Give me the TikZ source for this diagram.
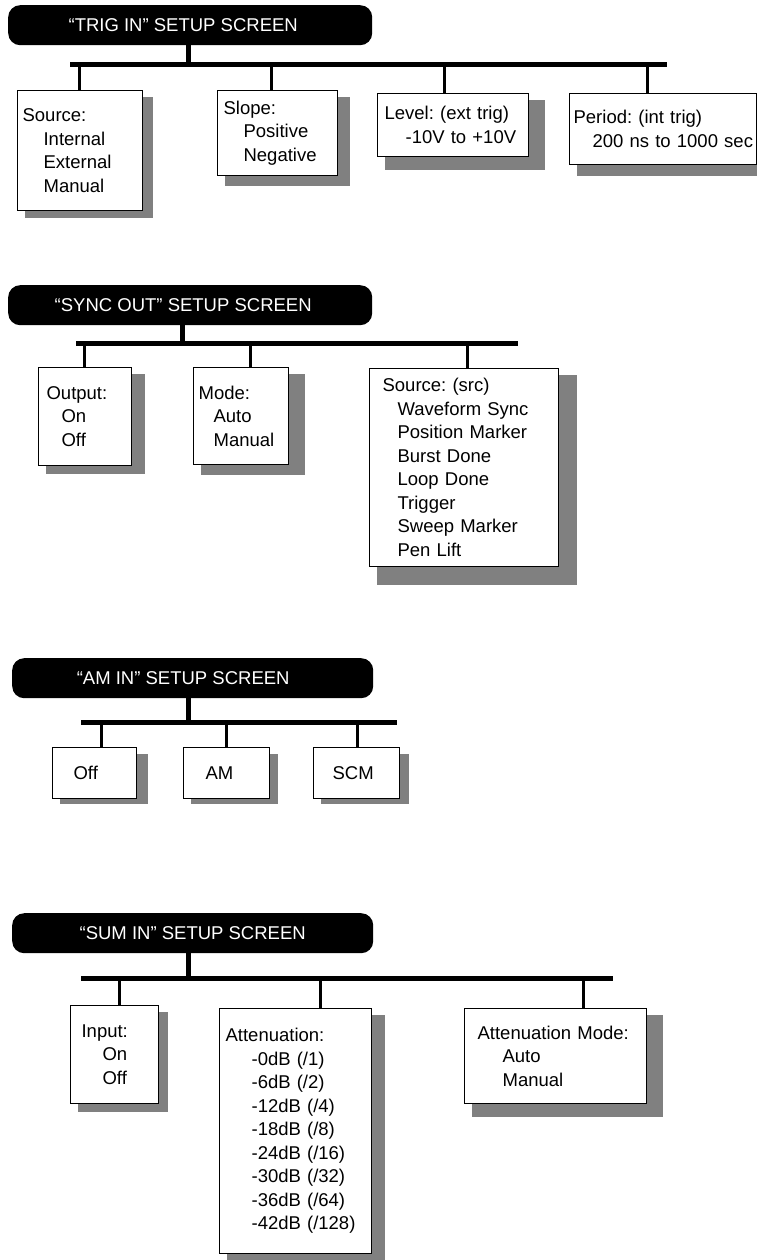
\documentclass[tikz,border=0pt]{standalone}
\usepackage{fontspec}
\setmainfont{Liberation Sans}
\definecolor{shadowgray}{HTML}{808080}
\tikzset{
  x=1pt, y=-1pt,
  titlebar/.style={fill=black, text=white, rounded corners=12pt, anchor=north west, inner sep=0pt, font=\fontsize{18.5}{22}\selectfont},
  optbox/.style={draw=black, line width=1.2pt, fill=white, anchor=north west, align=left, inner ysep=0pt, font=\fontsize{18.5}{23.5}\selectfont\frenchspacing},
  boxshade/.style={fill=shadowgray},
  busline/.style={line width=5pt},
  stemline/.style={line width=5pt},
  dropline/.style={line width=3pt},
}
\newcommand\optl[2][21]{\mbox{\hspace*{#1pt}#2}}
% style, name, x1, y1, x2, y2, shadow x2, shadow y2, pad ; then text as next arg
\newcommand\obox[9]{%
  \fill[boxshade] (#3+8,#4+7) rectangle (#7,#8);
  \pgfmathsetmacro\obw{#5-#3}\pgfmathsetmacro\obh{#6-#4}\pgfmathsetmacro\otw{#5-#3-2*#9}%
  \oboxnode{#1}{#2}{#3}{#4}{#9}%
}
\newcommand\oboxnode[6]{%
  \node[#1, minimum width=\obw pt, minimum height=\obh pt, text width=\otw pt, inner xsep=#5pt] (#2) at (#3,#4) {#6};
}
\newcommand\dropto[3]{\coordinate (#1) at (#2); \draw[dropline] (#1) -- (#1 |- #3.north);}
\begin{document}
\begin{tikzpicture}
\useasboundingbox (0,0) rectangle (757,1260);
\fill[white] (0,0) rectangle (757,1260);

% ---------- TRIG IN ----------
\node[titlebar, minimum width=364pt, minimum height=40pt] (t1) at (8,5) {\hspace*{-14pt}“TRIG IN” SETUP SCREEN};
\coordinate (bl1) at (70,65); \coordinate (br1) at (667,65);
\coordinate (s1) at (188,65);
\draw[stemline] (s1 |- t1.south) -- (s1);
\draw[busline] (bl1) -- (br1);
\obox{optbox}{b11}{17}{90}{142}{210}{153}{218}{5}{\mbox{Source:}\\\optl{Internal}\\\optl{External}\\\optl{Manual}}
\obox{optbox}{b12}{217}{90}{337}{175}{350}{186}{6}{\mbox{Slope:}\\\optl[20]{Positive}\\\optl[20]{Negative}}
\obox{optbox}{b13}{377}{93}{528}{156}{545}{170}{7}{\mbox{Level: (ext trig)}\\\optl{-10V to +10V}}
\obox{optbox}{b14}{569}{93}{756}{164}{770}{176}{4}{\mbox{Period: (int trig)}\\\optl[19]{200 ns to 1000 sec}}
\dropto{d11}{79,65}{b11}
\dropto{d12}{271,65}{b12}
\dropto{d13}{444,65}{b13}
\dropto{d14}{647,65}{b14}

% ---------- SYNC OUT ----------
\node[titlebar, minimum width=364pt, minimum height=40pt] (t2) at (8,285) {\hspace*{-14pt}“SYNC OUT” SETUP SCREEN};
\coordinate (bl2) at (76,343); \coordinate (br2) at (518,343);
\coordinate (s2) at (182,343);
\draw[stemline] (s2 |- t2.south) -- (s2);
\draw[busline] (bl2) -- (br2);
\obox{optbox}{b21}{38}{367}{131}{465}{145}{474}{8}{\mbox{Output:}\\\optl[15]{On}\\\optl[15]{Off}}
\obox{optbox}{b22}{193}{367}{288}{464}{305}{475}{5}{\mbox{Mode:}\\\optl[15]{Auto}\\\optl[15]{Manual}}
\obox{optbox}{b23}{369}{368}{558}{566}{577}{585}{13}{\mbox{Source: (src)}\\\optl[15]{Waveform Sync}\\\optl[15]{Position Marker}\\\optl[15]{Burst Done}\\\optl[15]{Loop Done}\\\optl[15]{Trigger}\\\optl[15]{Sweep Marker}\\\optl[15]{Pen Lift}}
\dropto{d21}{84,343}{b21}
\dropto{d22}{250,343}{b22}
\dropto{d23}{467,343}{b23}

% ---------- AM IN ----------
\node[titlebar, minimum width=361pt, minimum height=40pt] (t3) at (12,658) {\hspace*{-19pt}“AM IN” SETUP SCREEN};
\coordinate (bl3) at (81,722); \coordinate (br3) at (397,722);
\coordinate (s3) at (188,722);
\draw[stemline] (s3 |- t3.south) -- (s3);
\draw[busline] (bl3) -- (br3);
\obox{optbox}{b31}{52}{747}{136}{798}{148}{804}{21}{\mbox{Off}}
\obox{optbox}{b32}{183}{747}{269}{798}{278}{804}{22}{\mbox{AM}}
\obox{optbox}{b33}{313}{747}{399}{798}{409}{804}{19}{\mbox{SCM}}
\dropto{d31}{101,722}{b31}
\dropto{d32}{226,722}{b32}
\dropto{d33}{357,722}{b33}

% ---------- SUM IN ----------
\node[titlebar, minimum width=361pt, minimum height=40pt] (t4) at (12,913) {“SUM IN” SETUP SCREEN};
\coordinate (bl4) at (81,978); \coordinate (br4) at (613,978);
\coordinate (s4) at (188,978);
\draw[stemline] (s4 |- t4.south) -- (s4);
\draw[busline] (bl4) -- (br4);
\obox{optbox}{b41}{70}{1005}{158}{1103}{168}{1112}{11}{\mbox{Input:}\\\optl{On}\\\optl{Off}}
\obox{optbox}{b42}{219}{1008}{371}{1253}{385}{1265}{6}{\mbox{Attenuation:}\\\optl[26]{-0dB (/1)}\\\optl[26]{-6dB (/2)}\\\optl[26]{-12dB (/4)}\\\optl[26]{-18dB (/8)}\\\optl[26]{-24dB (/16)}\\\optl[26]{-30dB (/32)}\\\optl[26]{-36dB (/64)}\\\optl[26]{-42dB (/128)}}
\obox{optbox}{b43}{464}{1008}{646}{1103}{663}{1117}{13}{\mbox{Attenuation Mode:}\\\optl[25]{Auto}\\\optl[25]{Manual}}
\dropto{d41}{119,978}{b41}
\dropto{d42}{320,978}{b42}
\dropto{d43}{583,978}{b43}
\end{tikzpicture}
\end{document}
